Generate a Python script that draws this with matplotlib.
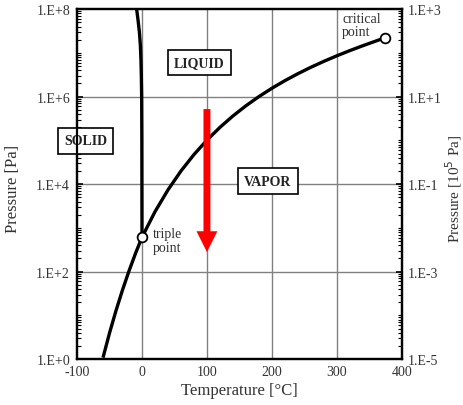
import numpy as np
import matplotlib
matplotlib.use('Agg')
import matplotlib.pyplot as plt
from matplotlib.ticker import LogLocator, FixedLocator, NullFormatter

plt.rcParams['font.family'] = ['Liberation Serif', 'DejaVu Serif']

# vapor pressure curve (liquid - vapor), triple point -> critical point
vap_t = [0.01, 20, 40, 60, 80, 100, 120, 140, 160, 180, 200,
         220, 240, 260, 280, 300, 320, 340, 360, 374]
vap_p = [611.7, 2339, 7385, 19946, 47414, 101325, 198670, 361540, 618230,
         1002800, 1554900, 2319600, 3346900, 4692300, 6416600, 8587900,
         11284000, 14601000, 18666000, 22064000]

# sublimation curve (ice - vapor)
sub_t = [-60, -50, -40, -30, -20, -10, 0.01]
sub_p = [1.08, 3.94, 12.84, 38.0, 103.3, 259.9, 611.7]

# melting curve (ice - liquid)
melt_t = [0.01, -0.2, -0.5, -1.0, -1.6, -2.5, -4.0, -6.0, -8.2]
melt_p = [611.7, 1e5, 1e6, 3e6, 7e6, 1.5e7, 3e7, 5.5e7, 1e8]

triple = (0.01, 611.7)
critical = (374, 22064000)

# red arrow at 100 C
arrow_t = 100
arrow_p_start = 5.2e5
arrow_p_end = 280

left_ticks = [1e0, 1e2, 1e4, 1e6, 1e8]
left_labels = ['1.E+0', '1.E+2', '1.E+4', '1.E+6', '1.E+8']
right_ticks = [1e-5, 1e-3, 1e-1, 1e1, 1e3]
right_labels = ['1.E-5', '1.E-3', '1.E-1', '1.E+1', '1.E+3']
x_ticks = [-100, 0, 100, 200, 300, 400]

txt_col = '#333333'

fig = plt.figure(figsize=(4.64, 4.06), dpi=100)
ax = fig.add_axes([0.166, 0.113, 0.700, 0.862])

ax.set_xlim(-100, 400)
ax.set_yscale('log')
ax.set_ylim(1e0, 1e8)

# grid
for t in [0, 100, 200, 300]:
    ax.axvline(t, color='#808080', lw=1.0, zorder=1)
for p in [1e2, 1e4, 1e6]:
    ax.axhline(p, color='#808080', lw=1.0, zorder=1)

ax.plot(vap_t, vap_p, color='black', lw=2.4, zorder=3, solid_capstyle='butt')
ax.plot(sub_t, sub_p, color='black', lw=2.4, zorder=3, solid_capstyle='butt')
ax.plot(melt_t, melt_p, color='black', lw=2.4, zorder=3, solid_capstyle='butt')

ax.plot(*triple, 'o', ms=7, mfc='white', mec='black', mew=1.3, zorder=5)
ax.plot(*critical, 'o', ms=7, mfc='white', mec='black', mew=1.3, zorder=5,
        clip_on=False)

ax.annotate('', xy=(arrow_t, arrow_p_end), xytext=(arrow_t, arrow_p_start),
            arrowprops=dict(facecolor='red', edgecolor='none', width=5,
                            headwidth=15, headlength=15, shrink=0),
            zorder=4)

box = dict(boxstyle='square,pad=0.45', fc='white', ec='black', lw=1.2)
ax.text(-87, 9.8e4, 'SOLID', ha='center', va='center', fontsize=10,
        fontweight='bold', bbox=box, zorder=6, color='#222222')
ax.text(88, 6.0e6, 'LIQUID', ha='center', va='center', fontsize=10,
        fontweight='bold', bbox=box, zorder=6, color='#222222')
ax.text(194, 1.17e4, 'VAPOR', ha='center', va='center', fontsize=10,
        fontweight='bold', bbox=box, zorder=6, color='#222222')

ax.text(16, 525, 'triple\npoint', ha='left', va='center', fontsize=10,
        color=txt_col, linespacing=1.1, zorder=6)
ax.text(308, 4.3e7, 'critical\npoint', ha='left', va='center', fontsize=10,
        color=txt_col, linespacing=1.0, zorder=6)

ax.set_xticks(x_ticks)
ax.set_xticklabels([str(v) for v in x_ticks], fontsize=10, color=txt_col)
ax.yaxis.set_major_locator(FixedLocator(left_ticks))
ax.set_yticklabels(left_labels, fontsize=10, color=txt_col)
ax.yaxis.set_minor_locator(LogLocator(base=10, subs=np.arange(1, 10), numticks=100))
ax.yaxis.set_minor_formatter(NullFormatter())
ax.tick_params(axis='x', which='major', direction='in', length=0, pad=4)
ax.tick_params(axis='y', which='minor', direction='in', length=3, width=0.8)
ax.tick_params(axis='y', which='major', direction='in', length=4, width=1.2, pad=5)

ax.set_xlabel('Temperature [°C]', fontsize=12, color=txt_col)
ax.xaxis.set_label_coords(0.5, -0.065)
ax.set_ylabel('Pressure [Pa]', fontsize=12, color=txt_col)
ax.yaxis.set_label_coords(-0.172, 0.49)

ax2 = ax.twinx()
ax2.set_yscale('log')
ax2.set_ylim(1e-5, 1e3)
ax2.yaxis.set_major_locator(FixedLocator(right_ticks))
ax2.set_yticklabels(right_labels, fontsize=10, color=txt_col)
ax2.yaxis.set_minor_locator(LogLocator(base=10, subs=np.arange(1, 10), numticks=100))
ax2.yaxis.set_minor_formatter(NullFormatter())
ax2.tick_params(axis='y', which='minor', direction='in', length=3, width=0.8)
ax2.tick_params(axis='y', which='major', direction='in', length=4, width=1.2, pad=4)
ax2.set_ylabel('Pressure [10$^5$ Pa]', fontsize=11, color=txt_col)
ax2.yaxis.set_label_coords(1.128, 0.49)

for a in (ax, ax2):
    for s in a.spines.values():
        s.set_linewidth(1.6)

fig.savefig('out.png', dpi=100)
